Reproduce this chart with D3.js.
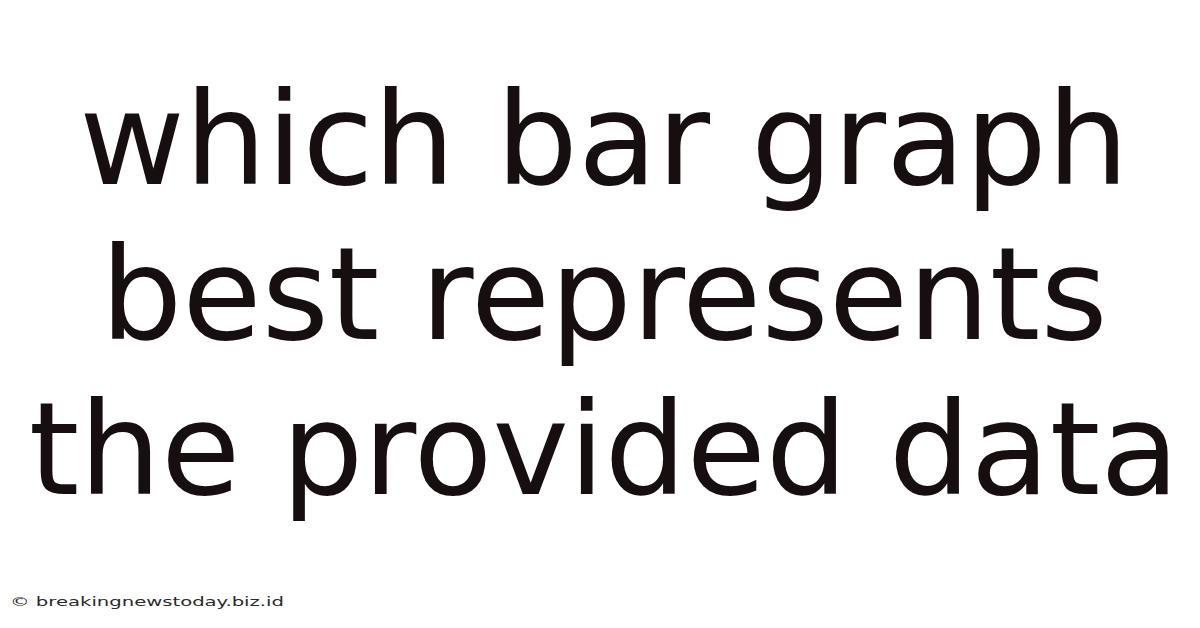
<!DOCTYPE html>
<html>
<head>
	<meta charset="utf-8">
	<title>which bar graph best represents the provided data</title>
	<script type="text/javascript" src="https://cdn.jsdelivr.net/npm/d3@7/dist/d3.min.js"></script>
	<style>
		html,body{margin:0;padding:0;background:#fff;}
	</style>
</head>
<body>
	<svg width="1200" height="628"></svg>
	<script>
	/*title lines and watermark text*/
	var titleLines=["which bar graph","best represents","the provided data"];
	var watermark=["© breakingnewstoday.biz.id"];

	var svg=d3.select("svg")
	var width=+svg.attr("width")
	var height=+svg.attr("height")

	/*baseline of each line, spread with a point scale*/
	var yScale=d3.scalePoint()
	.domain(d3.range(titleLines.length))
	.range([184,494]);

	svg.append("rect")
	.attr("width",width)
	.attr("height",height)
	.attr("fill","#ffffff");

	svg.selectAll(".title")
	.data(titleLines)
	.enter()
	.append("text")
	.attr("class","title")
	.attr("x",width/2+4)
	.attr("y",function(d,i){return yScale(i);})
	.attr("text-anchor","middle")
	.attr("font-family","DejaVu Sans")
	.attr("font-size",129)
	.attr("fill","#160e0f")
	.text(function(d){return d;});

	/*small watermark bottom left, stretched like the original*/
	svg.selectAll(".mark")
	.data(watermark)
	.enter()
	.append("text")
	.attr("class","mark")
	.attr("x",10)
	.attr("y",606)
	.attr("font-family","DejaVu Sans")
	.attr("font-size",13)
	.attr("textLength",274)
	.attr("lengthAdjust","spacingAndGlyphs")
	.attr("fill","#2a2a2a")
	.text(function(d){return d;});
	</script>
</body>
</html>
